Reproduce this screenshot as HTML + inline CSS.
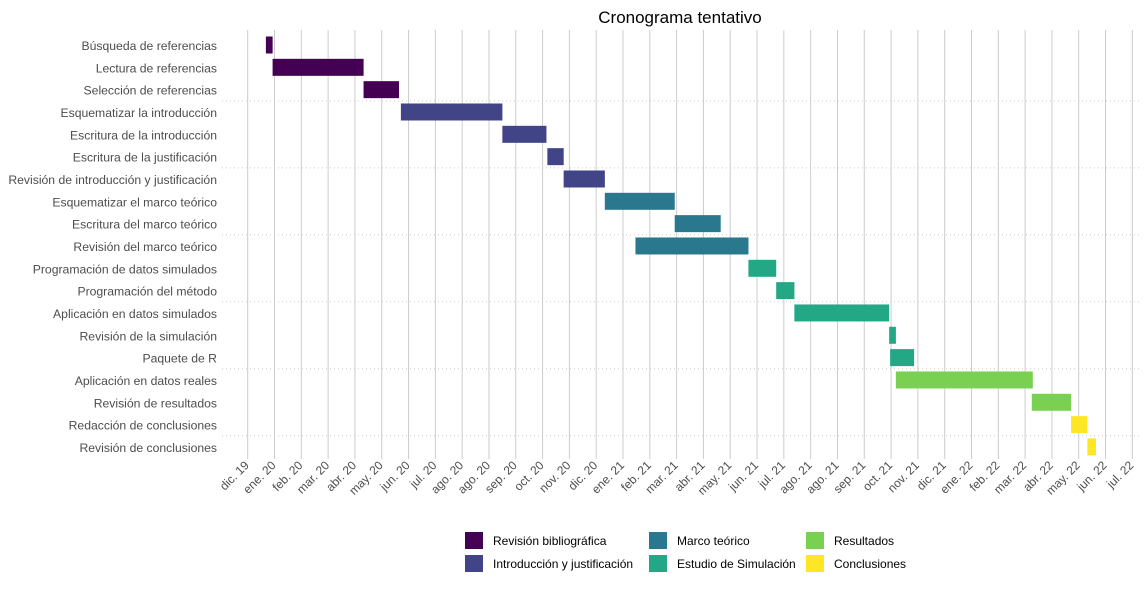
<!DOCTYPE html>
<html><head><meta charset="utf-8"><style>
body{margin:0;background:#fff;}
svg{display:block;font-family:"Liberation Sans",sans-serif;}
</style></head><body>
<svg id="chart" width="1144" height="590">
<text x="680" y="23" text-anchor="middle" font-size="17" fill="#000">Cronograma tentativo</text>
<g id="grid"></g>
<g id="bars"></g>
<g id="ylabels"></g>
<g id="xlabels"></g>
<g id="legend"></g>
</svg>
<script>
const tasks = ["Búsqueda de referencias","Lectura de referencias","Selección de referencias","Esquematizar la introducción","Escritura de la introducción","Escritura de la justificación","Revisión de introducción y justificación","Esquematizar el marco teórico","Escritura del marco teórico","Revisión del marco teórico","Programación de datos simulados","Programación del método","Aplicación en datos simulados","Revisión de la simulación","Paquete de R","Aplicación en datos reales","Revisión de resultados","Redacción de conclusiones","Revisión de conclusiones"];
const starts = ["2020-01-10","2020-01-17","2020-04-21","2020-05-30","2020-09-13","2020-10-30","2020-11-16","2020-12-29","2021-03-12","2021-01-30","2021-05-28","2021-06-26","2021-07-15","2021-10-22","2021-10-23","2021-10-29","2022-03-20","2022-04-30","2022-05-17"];
const ends = ["2020-01-16","2020-04-20","2020-05-27","2020-09-12","2020-10-28","2020-11-15","2020-12-28","2021-03-11","2021-04-28","2021-05-27","2021-06-25","2021-07-14","2021-10-21","2021-10-28","2021-11-16","2022-03-20","2022-04-29","2022-05-16","2022-05-25"];
const phases = [0,0,0,1,1,1,1,2,2,2,3,3,3,3,3,4,4,5,5];
const phaseNames = ["Revisión bibliográfica","Introducción y justificación","Marco teórico","Estudio de Simulación","Resultados","Conclusiones"];
const phaseColors = ["#440154","#414487","#2A788E","#22A884","#7AD151","#FDE725"];
const tickStart = "2019-12-22";
const tickStepDays = 28;
const tickLabels = ["dic. 19","ene. 20","feb. 20","mar. 20","abr. 20","may. 20","jun. 20","jul. 20","ago. 20","ago. 20","sep. 20","oct. 20","nov. 20","dic. 20","ene. 21","feb. 21","mar. 21","abr. 21","may. 21","jun. 21","jul. 21","ago. 21","ago. 21","sep. 21","oct. 21","nov. 21","dic. 21","ene. 22","feb. 22","mar. 22","abr. 22","may. 22","jun. 22","jul. 22"];

const NS="http://www.w3.org/2000/svg";
const DAY=86400000;
const t0=Date.parse(tickStart);
const X0=247.7, PXD=0.9574;
function x(dateStr){return X0+(Date.parse(dateStr)-t0)/DAY*PXD;}
function xTick(i){return X0+i*tickStepDays*PXD;}
const Y0=45, RS=22.33;
function y(i){return Y0+i*RS;}
function mk(tag,attrs,parent){const e=document.createElementNS(NS,tag);for(const k in attrs)e.setAttribute(k,attrs[k]);parent.appendChild(e);return e;}

const grid=document.getElementById('grid');
tickLabels.forEach((lab,i)=>{
  const l=mk('line',{x1:xTick(i),x2:xTick(i),y1:30,y2:459,stroke:'#cccccc','stroke-width':1},grid);
  
  
});
for(let k=1;k<=6;k++){
  const yy=y(3*k-0.5);
  const l=mk('line',{x1:222,x2:1140,y1:yy,y2:yy,stroke:'#cccccc','stroke-width':1,'stroke-dasharray':'1 3'},grid);
  
  
}
const bars=document.getElementById('bars');
const yl=document.getElementById('ylabels');
tasks.forEach((t,i)=>{
  const x1=x(starts[i]), x2=x(ends[i])+1;
  const r=mk('rect',{x:x1,y:y(i)-8.5,width:Math.max(1,x2-x1),height:17,fill:phaseColors[phases[i]]},bars);
  
  
  const tx=mk('text',{x:217,y:y(i)+5,'text-anchor':'end','font-size':12.2,fill:'#4d4d4d'},yl);
  tx.textContent=t;
  
  
});
const xl=document.getElementById('xlabels');
tickLabels.forEach((lab,i)=>{
  const xx=xTick(i)+2, yy=466;
  const tx=mk('text',{x:xx,y:yy,'text-anchor':'end','font-size':12,fill:'#4d4d4d',transform:`rotate(-45 ${xx} ${yy})`},xl);
  tx.textContent=lab;
  
  
});
const lg=document.getElementById('legend');
const colX=[465,649,806];
phaseNames.forEach((n,i)=>{
  const c=Math.floor(i/2), r=i%2;
  const g=mk('g',{},lg);
  
  
  mk('rect',{x:colX[c],y:532+r*23,width:18,height:17,fill:phaseColors[i]},g);
  const tx=mk('text',{x:colX[c]+28,y:545+r*23,'font-size':12,fill:'#000'},g);
  tx.textContent=n;
});
</script>
</body></html>
